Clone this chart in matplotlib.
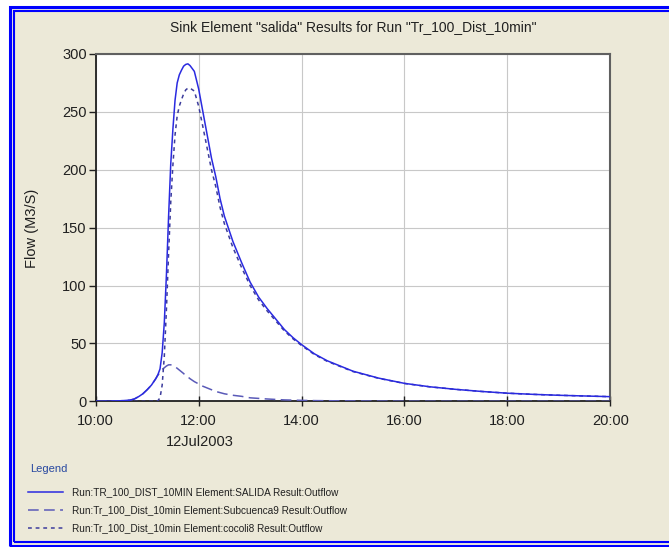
import matplotlib
matplotlib.use("Agg")
import matplotlib.pyplot as plt
from matplotlib.patches import Rectangle
from matplotlib.lines import Line2D

plt.rcParams['font.family'] = ['Liberation Sans', 'DejaVu Sans']

# ---------------- data (minutes after 10:00 on 12Jul2003, flow in M3/S) -------------
minutes = [0, 10, 20, 30, 40, 45, 50, 55, 60, 65, 70, 72.5, 75, 77.5, 80, 82.5, 85, 87.5,
           90, 92.5, 95, 97.5, 100, 102.5, 105, 107.5,
           110, 115, 120, 125, 130, 135, 140, 145, 150, 160, 170, 180, 190, 200, 210,
           220, 230, 240, 255, 270, 300, 330, 360, 390, 420, 450, 480, 510, 540, 570, 600]

salida = [0, 0, 0.2, 0.5, 1, 2, 4, 6.5, 10, 14, 19.5, 23, 28, 42, 68, 110, 160, 205,
          235, 260, 275, 282, 286, 289.5, 291, 291.5,
          290, 285, 270, 250, 230, 210, 194, 175, 160, 138, 120, 103, 90, 80, 71,
          62, 55, 49, 41, 35, 26, 20, 15.5, 12.5, 10.3, 8.5, 7, 6, 5.2, 4.6, 4]

subcuenca9 = [0, 0, 0.2, 0.5, 1, 2, 4, 6.5, 10, 14, 19.5, 22.5, 25, 27.5, 29, 30.5, 31.5, 31.5,
              31, 30, 28.5, 27, 25.5, 24, 22, 21,
              19.5, 17, 15, 13, 11.5, 10, 8.5, 7.5, 6.5, 5.2, 4.3, 3, 2.5, 2, 1.6,
              1.2, 1.0, 0.8, 0.6, 0.5, 0.3, 0.2, 0.1, 0.05, 0, 0, 0, 0, 0, 0, 0]

cocoli8 = [0, 0, 0, 0, 0, 0, 0, 0, 0, 0, 0, 0.5, 3, 14, 39, 80, 128, 172,
           204, 230, 246.5, 255, 260.5, 265.5, 269, 270.5,
           270.5, 268, 255, 237, 218.5, 200, 185.5, 167.5, 153.5, 132.8, 115.7, 100, 87.5, 78, 69.4,
           60.8, 54, 48.2, 40.4, 34.5, 25.7, 19.8, 15.4, 12.45, 10.3, 8.5, 7, 6, 5.2, 4.6, 4]

x_ticks_hours = [10, 12, 14, 16, 18, 20]
x_tick_labels = ["10:00", "12:00", "14:00", "16:00", "18:00", "20:00"]
y_ticks = [0, 50, 100, 150, 200, 250, 300]

legend_labels = [
    "Run:TR_100_DIST_10MIN Element:SALIDA Result:Outflow",
    "Run:Tr_100_Dist_10min Element:Subcuenca9 Result:Outflow",
    "Run:Tr_100_Dist_10min Element:cocoli8 Result:Outflow",
]
title = 'Sink Element "salida" Results for Run "Tr_100_Dist_10min"'
ylabel = "Flow (M3/S)"
date_label = "12Jul2003"

# ---------------- figure ----------------
W, H = 669, 547
fig = plt.figure(figsize=(W / 100, H / 100), dpi=100)
BG = "#ECE9D8"
fig.patch.set_facecolor("white")


def fx(px):
    return px / W


def fy(py):
    return 1 - py / H


# beige panel
fig.add_artist(Rectangle((fx(9), fy(546)), fx(700) - fx(9), fy(6) - fy(546),
                         transform=fig.transFigure, facecolor=BG, edgecolor="none", zorder=-10))
# double blue frame
fig.add_artist(Rectangle((fx(9.5), fy(546)), fx(700) - fx(9.5), fy(6.5) - fy(546),
                         transform=fig.transFigure, facecolor="none", edgecolor="#0000FF",
                         lw=2.2, zorder=10))
fig.add_artist(Rectangle((fx(14), fy(542)), fx(700) - fx(14), fy(11) - fy(542),
                         transform=fig.transFigure, facecolor="none", edgecolor="#0000FF",
                         lw=1.5, zorder=10))

ax_l, ax_r, ax_t, ax_b = 95.7, 610.3, 54, 401.3
ax = fig.add_axes([fx(ax_l), fy(ax_b), fx(ax_r) - fx(ax_l), fy(ax_t) - fy(ax_b)])
ax.set_facecolor("white")

hours = [10 + m / 60 for m in minutes]
ax.plot(hours, salida, color="#2a2ae0", lw=1.1, ls="-", zorder=4)
ax.plot(hours, subcuenca9, color="#5a5ab8", lw=1.1, ls=(0, (7, 3.5)), zorder=3)
ax.plot(hours, cocoli8, color="#3c3c9c", lw=1.1, ls=(0, (2.5, 2.5)), zorder=3)

ax.set_xlim(10, 20)
ax.set_ylim(0, 300)
ax.set_xticks(x_ticks_hours)
ax.set_xticklabels(x_tick_labels)
ax.set_yticks(y_ticks)
ax.grid(True, color="#c8c8c8", lw=0.8)
ax.set_axisbelow(True)
for s in ["left", "bottom"]:
    ax.spines[s].set_color("#202020")
    ax.spines[s].set_linewidth(1.3)
for s in ["top", "right"]:
    ax.spines[s].set_color("#606060")
    ax.spines[s].set_linewidth(1.5)
ax.tick_params(axis="y", direction="out", length=5, width=1, pad=1.5,
               labelsize=10.5, colors="#202020")
ax.tick_params(axis="x", direction="inout", length=7, width=1, pad=5.5,
               labelsize=10.5, colors="#202020")

fig.text(fx(353), fy(27), title, ha="center", va="center", fontsize=10, color="#202020")
fig.text(fx(32), fy(228), ylabel, ha="center", va="center", rotation=90,
         fontsize=10.5, color="#202020")
fig.text(fx(200), fy(442), date_label, ha="center", va="center", fontsize=10.5,
         color="#202020")

# legend area
fig.text(fx(30), fy(469), "Legend", ha="left", va="center", fontsize=8, color="#2848a0")
styles = [("#2a2ae0", "-"), ("#5a5ab8", (0, (7, 3.5))), ("#3c3c9c", (0, (2.5, 2.5)))]
ys = [492, 510, 528]
for (c, ls), yy, lab in zip(styles, ys, legend_labels):
    fig.add_artist(Line2D([fx(28), fx(63)], [fy(yy), fy(yy)], transform=fig.transFigure,
                          color=c, ls=ls, lw=1.1))
    fig.text(fx(72), fy(yy), lab, ha="left", va="center", fontsize=7.2, color="#202020")

fig.savefig("out.png", dpi=100, facecolor=fig.get_facecolor())
